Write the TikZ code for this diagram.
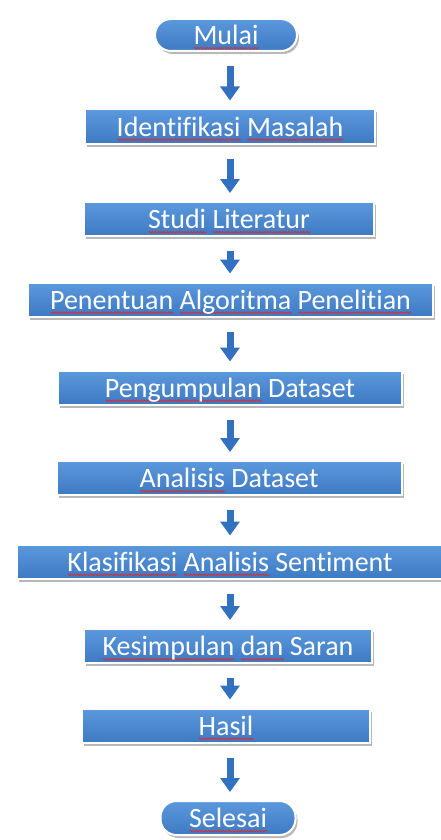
\documentclass[tikz,border=0pt]{standalone}
\usepackage{fontspec}
\setmainfont{Carlito}[Ligatures=CommonOff]
\usetikzlibrary{arrows.meta,shadows,decorations.pathmorphing}
\definecolor{boxtop}{RGB}{92,152,220}
\definecolor{boxbot}{RGB}{62,122,195}
\definecolor{arrowblue}{RGB}{50,112,192}
\definecolor{squig}{RGB}{225,40,40}
\newsavebox\sqbox
\newlength\sqwd
\newcommand\sq[1]{\sbox\sqbox{#1}\setlength\sqwd{\wd\sqbox}\leavevmode
  \rlap{\smash{\raisebox{-5pt}{\tikz[x=1pt,y=1pt,sharp corners,line width=0.7pt]
    \draw[draw=squig, decorate, decoration={snake, amplitude=0.9pt, segment length=3pt}]
      (0pt,0pt) -- (\sqwd,0pt);}}}\usebox\sqbox}
\begin{document}
\begin{tikzpicture}[x=1pt,y=-1pt,
  base/.style={draw=white, line width=2pt, top color=boxtop, bottom color=boxbot,
    inner sep=0pt, text=white, font=\fontsize{28}{30}\selectfont,
    text height=22pt, text depth=3pt,
    drop shadow={shadow xshift=2pt, shadow yshift=-3pt, opacity=0.28, fill=black}},
  stepbox/.style={base, rectangle, minimum width=#1, minimum height=34pt},
  pill/.style={base, rectangle, rounded corners=16pt, minimum width=#1, minimum height=32pt},
  flow/.style={draw=arrowblue, line width=7pt, -{Triangle[width=19pt,length=14pt]},
    shorten <=14pt, shorten >=8pt}]
\useasboundingbox (0,0) rectangle (441,840);
\coordinate (ax) at (230,0);
\node[pill=142pt]      (start) at (226,35)    {\sq{Mulai}};
\node[stepbox=290pt]   (n1) at (230,126.5) {\sq{Identifikasi} \sq{Masalah}};
\node[stepbox=290pt]   (n2) at (229,219)   {\sq{Studi} \sq{Literatur}};
\node[stepbox=405pt]   (n3) at (230.5,299.5) {\sq{Penentuan} \sq{Algoritma} \sq{Penelitian}};
\node[stepbox=344pt]   (n4) at (230,387.5) {\sq{Pengumpulan} Dataset};
\node[stepbox=345pt]   (n5) at (229,478)   {\sq{Analisis} Dataset};
\node[stepbox=426pt]   (n6) at (230,561.5) {\sq{Klasifikasi} \sq{Analisis} Sentiment};
\node[stepbox=288pt]   (n7) at (228,646)   {\sq{Kesimpulan} \sq{dan} Saran};
\node[stepbox=288pt]   (n8) at (226,725.5) {\sq{Hasil}};
\node[pill=135pt, minimum height=34pt] (end) at (228,818) {\sq{Selesai}};
\foreach \a/\b in {start/n1,n1/n2,n2/n3,n3/n4,n4/n5,n5/n6,n6/n7,n7/n8,n8/end}
  \draw[flow] (\a.south -| ax) -- (ax |- \b.north);
\end{tikzpicture}
\end{document}
